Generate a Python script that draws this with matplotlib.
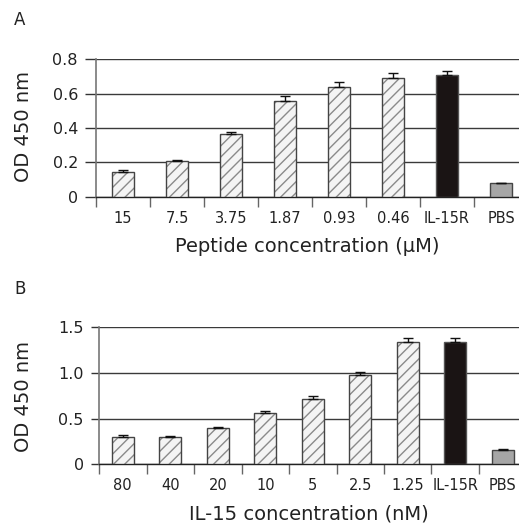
import matplotlib
matplotlib.use("Agg")
import matplotlib.pyplot as plt
import numpy as np

plt.rcParams['font.family'] = ['DejaVu Sans']

# Panel A data
a_labels = ["15", "7.5", "3.75", "1.87", "0.93", "0.46", "IL-15R", "PBS"]
a_values = [0.145, 0.205, 0.367, 0.558, 0.640, 0.692, 0.708, 0.078]
a_errors = [0.009, 0.008, 0.011, 0.027, 0.026, 0.026, 0.022, 0.003]
a_yticks = [0, 0.2, 0.4, 0.6, 0.8]
a_yticklabels = ["0", "0.2", "0.4", "0.6", "0.8"]

# Panel B data
b_labels = ["80", "40", "20", "10", "5", "2.5", "1.25", "IL-15R", "PBS"]
b_values = [0.296, 0.296, 0.398, 0.557, 0.712, 0.980, 1.336, 1.340, 0.155]
b_errors = [0.021, 0.009, 0.013, 0.032, 0.036, 0.035, 0.050, 0.048, 0.010]
b_yticks = [0, 0.5, 1.0, 1.5]
b_yticklabels = ["0", "0.5", "1.0", "1.5"]

W, H = 519, 527
fig = plt.figure(figsize=(W / 100, H / 100), dpi=100)


def fx(px):
    return px / W


def fy(py):
    return 1 - py / H


def draw_panel(ax, labels, values, errors, yticks, yticklabels, ymax,
               cat_px, width, xlabel, ytick_len, ytick_pad):
    n = len(labels)
    x = np.arange(n)
    kinds = ['hatch'] * (n - 2) + ['black', 'gray']
    for xi, v, k in zip(x, values, kinds):
        if k == 'hatch':
            ax.bar(xi, v, width=width, color='#f4f4f4', edgecolor='#8a8a8a',
                   hatch='///', linewidth=0, zorder=3)
            ax.bar(xi, v, width=width, fill=False, edgecolor='#444444',
                   linewidth=1.0, zorder=4)
        elif k == 'black':
            ax.bar(xi, v, width=width, color='#1a1414', edgecolor='#555555',
                   linewidth=1.0, zorder=3)
        else:
            ax.bar(xi, v, width=width, color='#a6a6a6', edgecolor='#444444',
                   linewidth=1.0, zorder=3)
    ax.errorbar(x, values, yerr=[np.zeros(n), errors], fmt='none',
                ecolor='#111111', elinewidth=1.0, capsize=3.3, capthick=1.0,
                zorder=5)
    ax.set_ylim(0, ymax)
    ax.set_yticks(yticks)
    ax.set_yticklabels(yticklabels, fontsize=11.5, color='#222222')
    ax.set_xticks(x)
    ax.set_xticklabels(labels, fontsize=10.5, color='#222222')
    ax.set_xticks(np.arange(n) - 0.5, minor=True)
    ax.tick_params(axis='x', which='major', length=0, pad=10)
    ax.tick_params(axis='x', which='minor', length=7, width=1.0,
                   color='#666666', direction='out')
    ax.tick_params(axis='y', length=ytick_len, width=1.0, color='#333333',
                   pad=ytick_pad)
    ax_w_px = ax.get_position().width * W
    ax.set_xlim(-0.5, -0.5 + ax_w_px / cat_px)
    for s in ['top', 'right']:
        ax.spines[s].set_visible(False)
    ax.spines['left'].set_color('#777777')
    ax.spines['left'].set_linewidth(1.2)
    ax.spines['bottom'].set_color('#222222')
    ax.spines['bottom'].set_linewidth(1.0)
    ax.yaxis.grid(True, color='#3a3a3a', linewidth=1.0, zorder=0)
    ax.set_axisbelow(True)
    ax.set_xlabel(xlabel, fontsize=14, color='#222222', labelpad=8)


# Panel A axes
axA = fig.add_axes([fx(96), fy(196.7), 1 - fx(96), fy(59.3) - fy(196.7)])
draw_panel(axA, a_labels, a_values, a_errors, a_yticks, a_yticklabels, 0.8,
           54.0, 0.42, "Peptide concentration (\u03bcM)", 8, 5)

# Panel B axes
axB = fig.add_axes([fx(99), fy(464.3), 1 - fx(99), fy(327.3) - fy(464.3)])
draw_panel(axB, b_labels, b_values, b_errors, b_yticks, b_yticklabels, 1.5,
           47.5, 0.47, "IL-15 concentration (nM)", 6, 5)

fig.text(fx(14), fy(20), "A", fontsize=12, color='#222222', va='center', ha='left')
fig.text(fx(14), fy(289), "B", fontsize=12, color='#222222', va='center', ha='left')
fig.text(fx(24), fy(127), "OD 450 nm", fontsize=14, color='#222222',
         rotation=90, va='center', ha='center')
fig.text(fx(24), fy(397), "OD 450 nm", fontsize=14, color='#222222',
         rotation=90, va='center', ha='center')

fig.savefig("out.png", dpi=100, facecolor='white')
